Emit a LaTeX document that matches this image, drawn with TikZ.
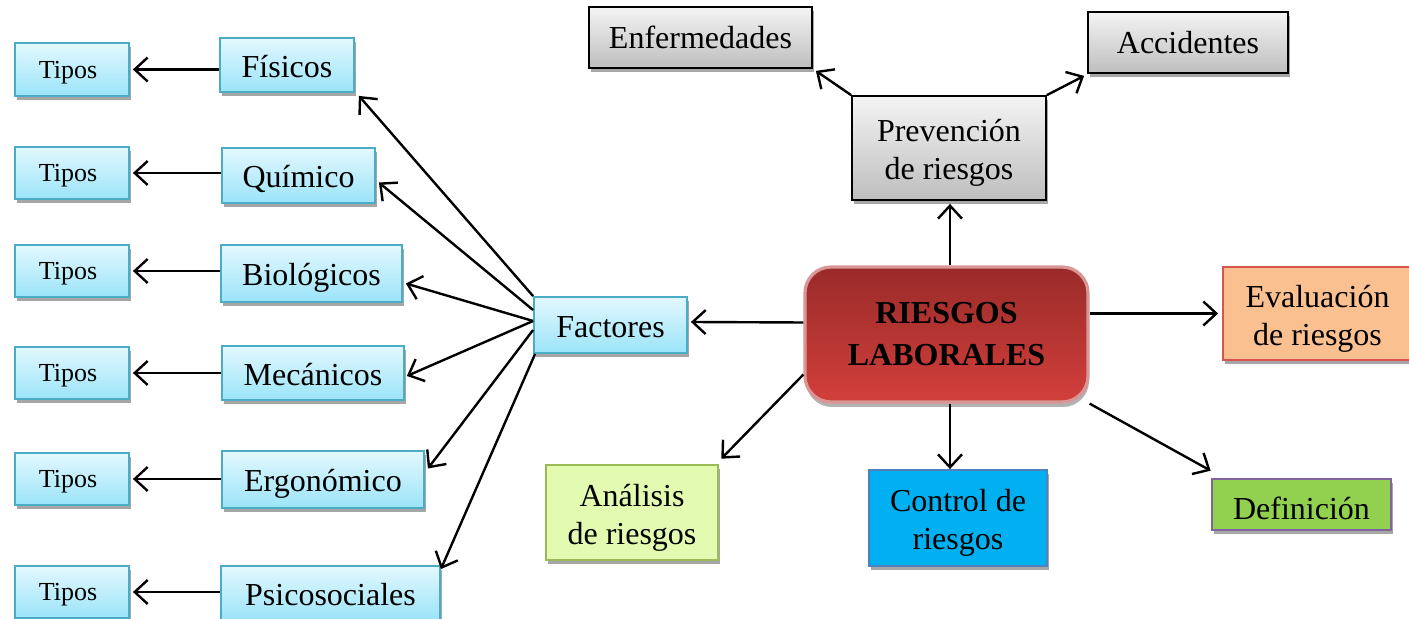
\documentclass[tikz,border=0pt]{standalone}
\usepackage{fontspec}
\setmainfont{Liberation Serif}
\usetikzlibrary{arrows.meta,shadows,calc}
\definecolor{bluetop}{HTML}{E3F8FE}
\definecolor{bluebot}{HTML}{9BE4F9}
\definecolor{blueline}{HTML}{4BACC6}
\definecolor{graytop}{HTML}{F4F4F4}
\definecolor{graybot}{HTML}{BEBEBE}
\definecolor{redtop}{HTML}{992B29}
\definecolor{redbot}{HTML}{D23F3B}
\definecolor{redline}{HTML}{D99694}
\definecolor{evafill}{HTML}{FAC090}
\definecolor{evaline}{HTML}{D9534F}
\definecolor{anafill}{HTML}{E2FBB0}
\definecolor{analine}{HTML}{9BBB59}
\definecolor{confill}{HTML}{00B0F0}
\definecolor{conline}{HTML}{4F81BD}
\definecolor{deffill}{HTML}{92D050}
\definecolor{defline}{HTML}{8064A2}
\newcommand\firststrut{\rule{0pt}{16pt}}
\begin{document}
\begin{tikzpicture}[x=0.5pt,y=-0.5pt,
  wh/.style 2 args={minimum width=#1*0.5pt, minimum height=#2*0.5pt},
  box/.style={rectangle, inner sep=0pt, align=center, font=\fontsize{16}{19}\selectfont,
    line width=0.9pt, drop shadow={shadow xshift=1pt,shadow yshift=-2pt,fill=black!35,opacity=1}},
  oneline/.style={text height=13pt, text depth=0.5pt},
  bluebox/.style={box, oneline, draw=blueline, top color=bluetop, bottom color=bluebot},
  tipobox/.style={box, draw=blueline, top color=bluetop, bottom color=bluebot,
    font=\fontsize{13}{15}\selectfont, text height=9.5pt, text depth=0.5pt},
  graybox/.style={box, draw=black, top color=graytop, bottom color=graybot},
  arr/.style={line width=1.2pt, -{Straight Barb[length=6.5pt,width=12pt]}},
]
\useasboundingbox (0,0) rectangle (1409,619);

% left column: Tipos
\node[tipobox, wh={114}{53}] (t1) at (72,69.5) {Tipos\hspace*{4pt}};
\node[tipobox, wh={114}{52}] (t2) at (72,173) {Tipos\hspace*{4pt}};
\node[tipobox, wh={114}{52}] (t3) at (72,271) {Tipos\hspace*{4pt}};
\node[tipobox, wh={114}{52}] (t4) at (72,373) {Tipos\hspace*{4pt}};
\node[tipobox, wh={114}{52}] (t5) at (72,479) {Tipos\hspace*{4pt}};
\node[tipobox, wh={114}{52}] (t6) at (72,592) {Tipos\hspace*{4pt}};

% factor types
\node[bluebox, wh={134}{54}] (fis) at (287,65) {Físicos};
\node[bluebox, wh={153}{55}] (qui) at (298.5,175.5) {Químico};
\node[bluebox, wh={181}{57}] (bio) at (311.5,273.5) {Biológicos};
\node[bluebox, wh={182}{54}] (mec) at (313,373) {Mecánicos};
\node[bluebox, wh={202}{57}] (erg) at (323,479.5) {Ergonómico};
\node[bluebox, wh={219}{54}] (psi) at (330.5,593) {Psicosociales};

\node[bluebox, wh={153}{56}] (fac) at (610.5,325) {Factores};

% centre
\node[rectangle, rounded corners=13pt, inner sep=0pt, wh={283}{135}, align=center,
  draw=redline, line width=1.6pt, top color=redtop, bottom color=redbot,
  font=\fontsize{16}{21}\selectfont\bfseries,
  drop shadow={shadow xshift=0.5pt,shadow yshift=-2.5pt,fill=black!30,opacity=1}]
  (cen) at (946.5,334.5) {RIESGOS\\LABORALES};

% top
\node[graybox, wh={194}{104}] (pre) at (949,148) {\firststrut Prevención\\de riesgos};
\node[graybox, wh={223}{61}, text height=11.5pt, text depth=0.5pt] (enf) at (700.5,37.5) {Enfermedades};
\node[graybox, wh={200}{61}, text height=11.5pt, text depth=0.5pt] (acc) at (1188,42.5) {Accidentes};

% right and bottom
\node[box, wh={189}{93}, draw=evaline, fill=evafill] (eva) at (1317.5,313.5) {\firststrut Evaluación\\de riesgos};
\node[box, wh={172}{95}, draw=analine, line width=1.3pt, fill=anafill] (ana) at (632,512.5) {\firststrut Análisis\\de riesgos};
\node[box, wh={178}{96}, draw=conline, fill=confill] (con) at (958,518) {\firststrut Control de\\riesgos};
\node[box, wh={179}{51}, draw=defline, line width=1.3pt, fill=deffill,
  text height=16pt, text depth=0.5pt] (def) at (1301.5,504.5) {Definición};

% connectors: factor types -> Tipos
\foreach \a/\b in {fis/t1,qui/t2,bio/t3,mec/t4,erg/t5,psi/t6}
  \draw[arr, shorten >=1.5pt] (\a.west |- \b.east) -- (\b.east);

% Factores -> factor types
\draw[arr] (fac.north west) -- ($(fis.south east)+(4,3)$);
\draw[arr] ($(fac.west)+(0,-15)$) -- ($(qui.east)+(3,7)$);
\draw[arr] ($(fac.west)+(0,-4)$) -- ($(bio.east)+(3,10)$);
\draw[arr] ($(fac.west)+(0,-4)$) -- ($(mec.east)+(2,3)$);
\draw[arr] ($(fac.west)+(0,5)$) -- ($(erg.east)+(3,-11)$);
\draw[arr] ($(fac.south west)+(2,0)$) -- ($(psi.north east)+(0,4)$);

% centre -> others
\coordinate (cn) at ($(cen.north)+(3.5,0)$);
\coordinate (cs) at ($(cen.south)+(3.5,0)$);
\draw[arr] ($(cen.west)+(0,-12)$) -- ($(fac.east)+(3,-3)$);
\draw[arr, shorten >=1.5pt] (cn) -- (cn |- pre.south);
\draw[arr] (pre.north west) -- ($(enf.south east)+(3,2)$);
\draw[arr] (pre.north east) -- ($(acc.south west)+(-3,2)$);
\draw[arr, shorten >=2pt] (eva.west -| cen.east) -- (eva.west);
\draw[arr] ($(cen.west)+(0,40)$) -- ($(ana.north east)+(2,-5)$);
\draw[arr] (cs) -- (cs |- con.north);
\draw[arr] (cen.south east) -- ($(def.north west)+(0,-7)$);
\end{tikzpicture}
\end{document}
